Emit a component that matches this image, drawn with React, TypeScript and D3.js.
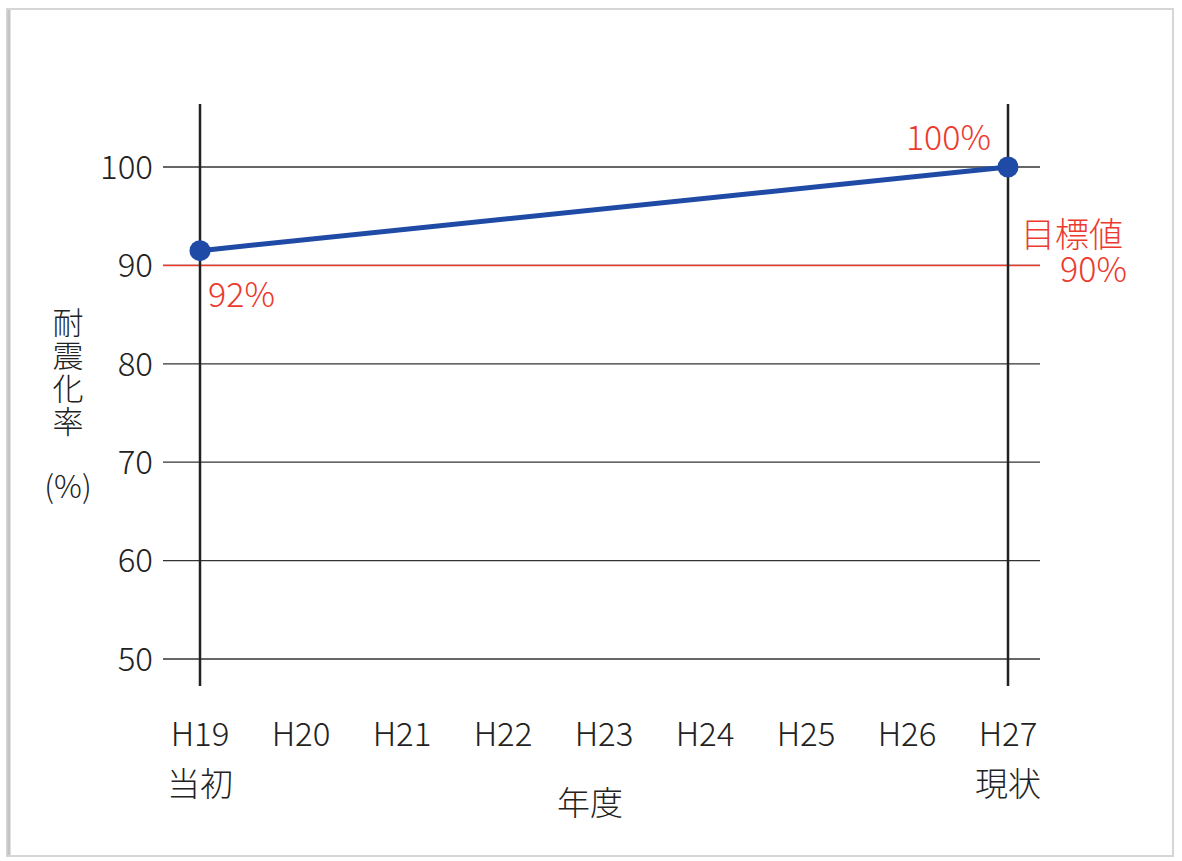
import * as d3 from "d3";
import { useEffect, useRef } from "react";

const years = ["H19", "H20", "H21", "H22", "H23", "H24", "H25", "H26", "H27"];
const subLabels = ["当初", "", "", "", "", "", "", "", "現状"];
const yTicks = [50, 60, 70, 80, 90, 100];
const seriesYears = ["H19", "H27"];
const seriesValues = [91.5, 100];
const seriesLabels = ["92%", "100%"];
const targetValue = 90;

const FONT = "'Noto Sans CJK JP', 'Noto Sans', sans-serif";
const WEIGHT = 300;
const TEXT = "#222";
const RED = "#ec3a2f";
const BLUE = "#1f4aa5";

export default function App() {
  const ref = useRef<SVGSVGElement>(null);

  useEffect(() => {
    const svg = d3.select(ref.current);
    svg.selectAll("*").remove();

    const x = d3.scalePoint<string>().domain(years).range([200, 1008]);
    const y = d3.scaleLinear().domain([50, 100]).range([659, 167]);

    // card frame
    svg
      .append("rect")
      .attr("x", 7)
      .attr("y", 9)
      .attr("width", 1166)
      .attr("height", 847)
      .attr("fill", "#fff")
      .attr("stroke", "#d6d6d6")
      .attr("stroke-width", 2);
    svg
      .append("line")
      .attr("x1", 9)
      .attr("x2", 9)
      .attr("y1", 10)
      .attr("y2", 855)
      .attr("stroke", "#c4c4c4")
      .attr("stroke-width", 3);

    // gridlines
    svg
      .append("g")
      .selectAll("line")
      .data(yTicks)
      .join("line")
      .attr("x1", 163)
      .attr("x2", 1040)
      .attr("y1", (d) => y(d))
      .attr("y2", (d) => y(d))
      .attr("stroke", "#333")
      .attr("stroke-width", 1.3);

    svg
      .append("g")
      .selectAll("text")
      .data(yTicks)
      .join("text")
      .attr("x", 153)
      .attr("y", (d) => y(d))
      .attr("dy", "0.36em")
      .attr("text-anchor", "end")
      .attr("font-family", FONT)
      .attr("font-weight", WEIGHT)
      .attr("font-size", 33)
      .attr("fill", TEXT)
      .text((d) => d);

    // target line
    svg
      .append("line")
      .attr("x1", 163)
      .attr("x2", 1040)
      .attr("y1", y(targetValue))
      .attr("y2", y(targetValue))
      .attr("stroke", RED)
      .attr("stroke-width", 1.5);

    // vertical lines at first / last year
    svg
      .append("g")
      .selectAll("line")
      .data(seriesYears)
      .join("line")
      .attr("x1", (d) => x(d)!)
      .attr("x2", (d) => x(d)!)
      .attr("y1", 104)
      .attr("y2", 686)
      .attr("stroke", "#222")
      .attr("stroke-width", 2.5);

    // x labels
    const xl = svg
      .append("g")
      .attr("font-family", FONT)
      .attr("font-weight", WEIGHT)
      .attr("font-size", 33)
      .attr("fill", TEXT);
    xl.selectAll("text.yr")
      .data(years)
      .join("text")
      .attr("class", "yr")
      .attr("x", (d) => x(d)!)
      .attr("y", 746)
      .attr("text-anchor", "middle")
      .text((d) => d);
    xl.selectAll("text.sub")
      .data(years.map((d, i) => ({ d, s: subLabels[i] })).filter((e) => e.s))
      .join("text")
      .attr("class", "sub")
      .attr("x", (e) => x(e.d)!)
      .attr("y", 796)
      .attr("text-anchor", "middle")
      .text((e) => e.s);
    xl.append("text").attr("x", 590).attr("y", 815).attr("text-anchor", "middle").text("年度");

    // y title (vertical)
    const yt = svg
      .append("g")
      .attr("font-family", FONT)
      .attr("font-weight", WEIGHT)
      .attr("font-size", 31)
      .attr("fill", TEXT)
      .attr("text-anchor", "middle");
    yt.append("text")
      .attr("x", 68)
      .attr("y", 307)
      .attr("text-anchor", "start")
      .style("writing-mode", "vertical-rl")
      .style("letter-spacing", "2px")
      .text("耐震化率");
    yt.append("text").attr("x", 68).attr("y", 498).text("(%)");

    // series
    const pts = seriesYears.map((d, i) => ({ d, v: seriesValues[i], label: seriesLabels[i] }));
    const line = d3
      .line<{ d: string; v: number }>()
      .x((p) => x(p.d)!)
      .y((p) => y(p.v));
    svg
      .append("path")
      .attr("d", line(pts) ?? "")
      .attr("fill", "none")
      .attr("stroke", BLUE)
      .attr("stroke-width", 5);
    svg
      .append("g")
      .selectAll("circle")
      .data(pts)
      .join("circle")
      .attr("cx", (p) => x(p.d)!)
      .attr("cy", (p) => y(p.v))
      .attr("r", 10.5)
      .attr("fill", BLUE);

    // value labels
    const rl = svg
      .append("g")
      .attr("font-family", FONT)
      .attr("font-weight", WEIGHT)
      .attr("font-size", 34)
      .attr("fill", RED);
    rl.append("text")
      .attr("x", x(pts[0].d)! + 8)
      .attr("y", y(pts[0].v) + 56)
      .text(pts[0].label);
    rl.append("text")
      .attr("x", x(pts[1].d)! - 17)
      .attr("y", y(pts[1].v) - 17)
      .attr("text-anchor", "end")
      .text(pts[1].label);
    const target = rl.append("text");
    target.append("tspan").attr("x", 1021).attr("y", y(targetValue) - 18).text("目標値");
    target
      .append("tspan")
      .attr("x", 1127)
      .attr("y", y(targetValue) + 17)
      .attr("text-anchor", "end")
      .text(`${targetValue}%`);
  }, []);

  return (
    <svg
      ref={ref}
      width={1182}
      height={861}
      style={{ position: "absolute", left: 0, top: 0, background: "#fff" }}
    />
  );
}
